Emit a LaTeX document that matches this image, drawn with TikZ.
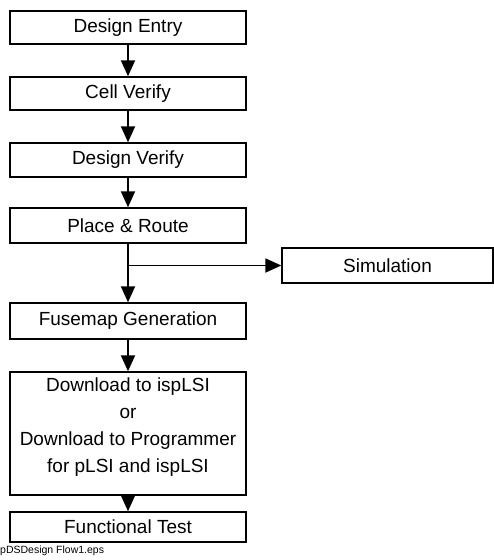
\documentclass[tikz,border=0pt]{standalone}
\usepackage{fontspec}
\setmainfont{Liberation Sans}
\usetikzlibrary{arrows.meta}
\begin{document}
\begin{tikzpicture}[x=1pt,y=-1pt,
  box/.style={draw=black,line width=1.4pt,minimum width=236pt,inner sep=0pt,font=\fontsize{19}{27}\selectfont,align=center},
  conn/.style={line width=1.9pt,-{Triangle[length=16pt,width=14pt]}}]
\useasboundingbox (0,0) rectangle (494,560);
\node[box,minimum height=33pt] (entry) at (128,27.5) {Design Entry};
\node[box,minimum height=33pt] (cell) at (128,93.5) {Cell Verify};
\node[box,minimum height=34pt] (dver) at (128,160) {Design Verify};
\node[box,minimum height=35pt] (pr) at (128,225.5) {Place \& Route};
\node[box,minimum height=35pt,minimum width=211pt] (sim) at (387.5,265.5) {Simulation};
\node[box,minimum height=36pt] (fuse) at (128,321) {Fusemap Generation};
\node[box,minimum height=123pt] (dl) at (128,433.5) {};
\node[inner sep=0pt,font=\fontsize{19}{27}\selectfont,align=center] (dltext) at ([yshift=6pt]dl.center) {Download to ispLSI\\or\\Download to Programmer\\for pLSI and ispLSI};
\node[box,minimum height=30pt] (ft) at (128,527) {Functional Test};
\node[anchor=west,inner sep=0pt,font=\fontsize{10.5}{12}\selectfont] (cap) at (0,551) {pDSDesign Flow1.eps};
\coordinate (br) at (128,265.5);
\draw[conn] (entry) -- (cell);
\draw[conn] (cell) -- (dver);
\draw[conn] (dver) -- (pr);
\draw[conn] (pr) -- (fuse);
\draw[conn] (br) -- (sim.west);
\draw[conn] (fuse) -- (dl);
\draw[conn] (dl) -- (ft);
\end{tikzpicture}
\end{document}
